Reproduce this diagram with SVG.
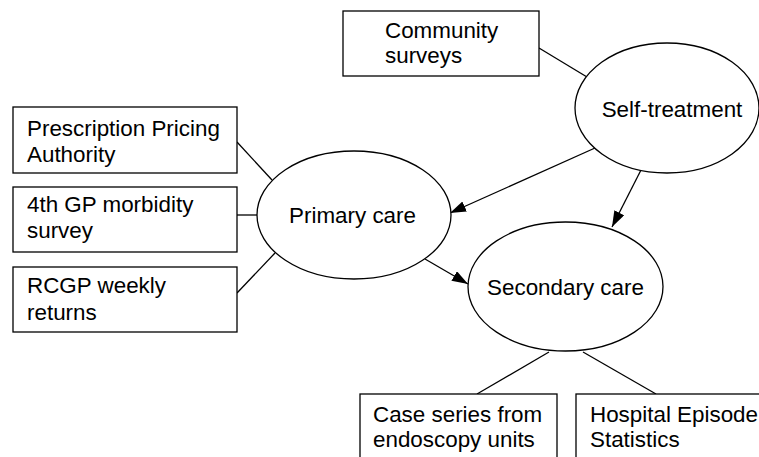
<svg xmlns="http://www.w3.org/2000/svg" width="759" height="457" viewBox="0 0 759 457">
<defs>
<style>
.box{fill:#fff;stroke:#000;stroke-width:1.3}
.ell{fill:#fff;stroke:#000;stroke-width:1.3}
.ln{stroke:#000;stroke-width:1.3;fill:none}
text{font-family:"Liberation Sans",Arial,sans-serif;font-size:22.4px;fill:#000}
.c{text-anchor:middle}
</style>
<marker id="ah" markerUnits="userSpaceOnUse" markerWidth="16" markerHeight="12" refX="16" refY="5.5" orient="auto">
<path d="M0,0 L16,5.5 L0,11 z" fill="#000"/>
</marker>
</defs>
<rect width="759" height="457" fill="#fff"/>
<g id="connectors">
<line class="ln" x1="539" y1="48" x2="587" y2="77"/>
<line class="ln" x1="237" y1="142" x2="272" y2="180"/>
<line class="ln" x1="237" y1="215" x2="257" y2="215"/>
<line class="ln" x1="237" y1="293" x2="275" y2="253"/>
<line class="ln" x1="595" y1="148" x2="450" y2="213" marker-end="url(#ah)"/>
<line class="ln" x1="641" y1="170" x2="612" y2="227" marker-end="url(#ah)"/>
<line class="ln" x1="425" y1="259" x2="468" y2="284" marker-end="url(#ah)"/>
<line class="ln" x1="549" y1="352" x2="477" y2="394"/>
<line class="ln" x1="583" y1="352" x2="656" y2="394"/>
</g>
<g id="community">
<rect class="box" x="343" y="11" width="196" height="65"/>
<text x="385" y="38">Community</text>
<text x="385" y="63">surveys</text>
</g>
<g id="self-treatment">
<ellipse class="ell" cx="667" cy="108" rx="92" ry="65"/>
<text class="c" x="672" y="117">Self-treatment</text>
</g>
<g id="ppa">
<rect class="box" x="13" y="107" width="224" height="66"/>
<text x="27" y="136">Prescription Pricing</text>
<text x="27" y="162">Authority</text>
</g>
<g id="gp4">
<rect class="box" x="13" y="187" width="224" height="65"/>
<text x="27" y="212">4th GP morbidity</text>
<text x="27" y="238">survey</text>
</g>
<g id="rcgp">
<rect class="box" x="13" y="267" width="224" height="65"/>
<text x="27" y="293">RCGP weekly</text>
<text x="27" y="320">returns</text>
</g>
<g id="primary">
<ellipse class="ell" cx="354" cy="215" rx="97" ry="64"/>
<text class="c" x="352.5" y="223">Primary care</text>
</g>
<g id="secondary">
<ellipse class="ell" cx="565.5" cy="286.5" rx="97.5" ry="64.5"/>
<text class="c" x="565.5" y="295">Secondary care</text>
</g>
<g id="case-series">
<rect class="box" x="360" y="394" width="197" height="80"/>
<text x="373" y="422">Case series from</text>
<text x="373" y="447">endoscopy units</text>
</g>
<g id="hes">
<rect class="box" x="576" y="394" width="200" height="80"/>
<text x="590" y="422">Hospital Episode</text>
<text x="590" y="447">Statistics</text>
</g>
</svg>
